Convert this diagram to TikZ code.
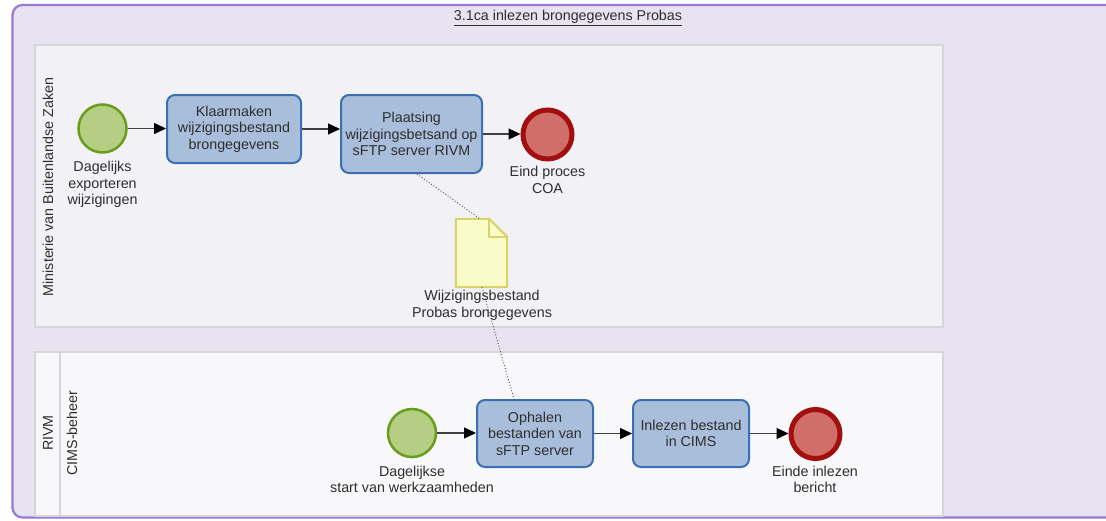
\documentclass[tikz,border=0pt]{standalone}
\usepackage{fontspec}
\setmainfont{Liberation Sans}
\usetikzlibrary{arrows.meta}
\definecolor{framefill}{HTML}{E8E3F0}
\definecolor{framedraw}{HTML}{9878D4}
\definecolor{poolTop}{HTML}{F2F1F6}
\definecolor{poolBot}{HTML}{F8F8FA}
\definecolor{poolDraw}{HTML}{D6D6DA}
\definecolor{taskFill}{HTML}{A8BEDB}
\definecolor{taskDraw}{HTML}{3A6FB0}
\definecolor{startFill}{HTML}{B4CE84}
\definecolor{startDraw}{HTML}{6A9D1E}
\definecolor{endFill}{HTML}{D06E6A}
\definecolor{endDraw}{HTML}{A20F0F}
\definecolor{dataFill}{HTML}{FBFAC9}
\definecolor{dataDraw}{HTML}{D8D46A}
\definecolor{txt}{HTML}{2E2E2E}
\begin{document}
\begin{tikzpicture}[x=1pt,y=-1pt,
 every node/.style={font=\fontsize{14.3}{16.5}\selectfont, text=txt},
 task/.style={draw=taskDraw, fill=taskFill, line width=2pt, rounded corners=8pt, align=center, inner sep=0pt},
 startev/.style={circle, draw=startDraw, fill=startFill, line width=2.5pt, minimum size=48pt, inner sep=0pt},
 endev/.style={circle, draw=endDraw, fill=endFill, line width=5pt, minimum size=49pt, inner sep=0pt},
 lbl/.style={align=center, inner sep=0pt},
 flow/.style={draw=black!75, line width=1.3pt, -{Triangle[length=12pt,width=11pt,color=black,fill=black]}},
 assoc/.style={draw=black!70, line width=0.9pt, dotted},
 lanelbl/.style={rotate=90, inner sep=0pt}]
\useasboundingbox (0,0) rectangle (1106,520);
\clip (0,0) rectangle (1106,520);
% outer frame
\draw[fill=framefill, draw=framedraw, line width=2.2pt, rounded corners=10pt] (12.5,5) rectangle (1130,517.5);
\node (title) at (568,18) {\underline{3.1ca inlezen brongegevens Probas}};
% pools
\draw[fill=poolTop, draw=poolDraw, line width=1.5pt] (35,45) rectangle (943,327);
\draw[fill=poolBot, draw=poolDraw, line width=1.5pt] (35,352) rectangle (943,516);
\draw[poolDraw, line width=1.5pt] (60,352) -- (60,516);
\node[lanelbl] (pool1) at (48,187) {Ministerie van Buitenlandse Zaken};
\node[lanelbl] (pool2) at (48,433) {RIVM};
\node[lanelbl] (lane2) at (72,433) {CIMS-beheer};
% top row
\node[startev] (s1) at (102.5,128.5) {};
\node[task, minimum width=134pt, minimum height=68pt] (t1) at (234,129) {Klaarmaken\\wijzigingsbestand\\brongegevens};
\node[task, minimum width=141pt, minimum height=78pt] (t2) at (411.5,134) {Plaatsing\\wijzigingsbetsand op\\sFTP server RIVM};
\node[endev] (e1) at (547.5,134.5) {};
% data object
\node[minimum width=51pt, minimum height=68pt, inner sep=0pt] (data) at (481.5,253) {};
\draw[draw=dataDraw, fill=dataFill, line width=2pt, line join=round]
  (data.north west) -- ([xshift=-18pt]data.north east) -- ([yshift=-18pt]data.north east)
  -- (data.south east) -- (data.south west) -- cycle;
\draw[draw=dataDraw, line width=2pt, line join=round]
  ([xshift=-18pt]data.north east) -- ([xshift=-18pt,yshift=-18pt]data.north east) -- ([yshift=-18pt]data.north east);
% bottom row
\node[startev] (s2) at (412,433) {};
\node[task, minimum width=116pt, minimum height=67pt] (t3) at (535,433.5) {Ophalen\\bestanden van\\sFTP server};
\node[task, minimum width=116pt, minimum height=67pt] (t4) at (691,433.5) {Inlezen bestand\\in CIMS};
\node[endev] (e2) at (815.5,434) {};
% labels
\node[lbl] (s1l) at (102.5,184.5) {Dagelijks\\exporteren\\wijzigingen};
\node[lbl] (e1l) at (547.5,180) {Eind proces\\COA};
\node[lbl] (dl) at (482,305.5) {Wijzigingsbestand\\Probas brongegevens};
\node[lbl] (s2l) at (412,479.5) {Dagelijkse\\start van werkzaamheden};
\node[lbl] (e2l) at (815,479.5) {Einde inlezen\\bericht};
% flows
\draw[flow] (s1.east) -- (s1.east -| t1.west);
\draw[flow] (t1.east) -- (t1.east -| t2.west);
\draw[flow] (t2.east) -- (t2.east -| e1.west);
\draw[flow] (s2.east) -- (s2.east -| t3.west);
\draw[flow] (t3.east) -- (t3.east -| t4.west);
\draw[flow] (t4.east) -- (t4.east -| e2.west);
% associations
\draw[assoc] ([xshift=5.5pt]t2.south) -- ([xshift=-1.5pt]data.north);
\draw[assoc] ([xshift=0.5pt]data.south) -- ([xshift=-21pt]t3.north);
\end{tikzpicture}
\end{document}
